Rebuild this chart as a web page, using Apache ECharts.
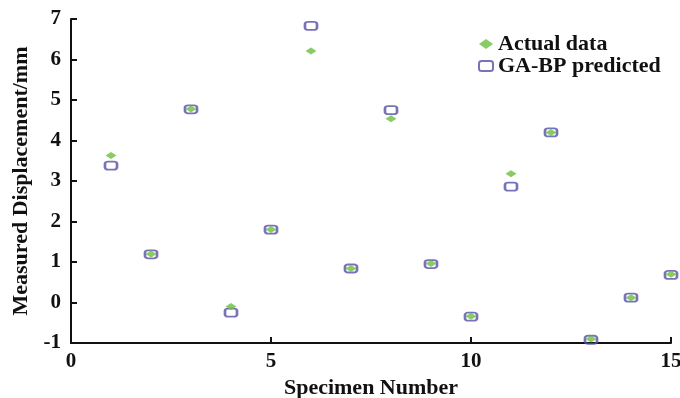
<!DOCTYPE html>
<html>
<head>
<meta charset="utf-8">
<script src="https://cdn.jsdelivr.net/npm/echarts@6/dist/echarts.min.js"></script>
<style>
  html, body { margin: 0; padding: 0; background: #fff; }
  #chart { width: 680px; height: 398px; }
</style>
</head>
<body>
<div id="chart"></div>
<script>
// specimen numbers 1..15
const specimens = [1, 2, 3, 4, 5, 6, 7, 8, 9, 10, 11, 12, 13, 14, 15];
const actualData = [3.63, 1.2, 4.78, -0.1, 1.8, 6.21, 0.84, 4.54, 0.96, -0.34, 3.18, 4.2, -0.9, 0.12, 0.7];
const predictedData = [3.38, 1.19, 4.77, -0.25, 1.8, 6.83, 0.84, 4.75, 0.95, -0.35, 2.86, 4.2, -0.92, 0.12, 0.68];

const font = 'Liberation Serif';
const pairs = (ys) => specimens.map((x, i) => [x, ys[i]]);
const txt = (size) => ({ fontFamily: font, fontWeight: 'bold', fontSize: size, color: '#111' });

const myChart = echarts.init(document.getElementById('chart'));
myChart.setOption({
  animation: false,
  backgroundColor: '#fff',
  grid: { left: 71, right: 9, top: 19, bottom: 55, outerBoundsMode: 'none', containLabel: false },
  legend: {
    orient: 'vertical',
    left: 473,
    top: 28,
    itemGap: 0,
    itemWidth: 14,
    itemHeight: 10,
    data: ['Actual data', 'GA-BP predicted'],
    textStyle: txt(22),
  },
  xAxis: {
    type: 'value',
    min: 0,
    max: 15,
    interval: 5,
    name: 'Specimen Number',
    nameLocation: 'middle',
    nameGap: 25,
    nameTextStyle: txt(22),
    axisLine: { onZero: false, lineStyle: { color: '#111', width: 2 } },
    axisTick: { inside: true, length: 6, lineStyle: { color: '#111', width: 2 } },
    axisLabel: Object.assign(txt(21), { margin: 8 }),
    splitLine: { show: false },
  },
  yAxis: {
    type: 'value',
    min: -1,
    max: 7,
    interval: 1,
    name: 'Measured Displacement/mm',
    nameLocation: 'middle',
    nameGap: 37,
    nameTextStyle: txt(22),
    axisLine: { show: true, lineStyle: { color: '#111', width: 2 } },
    axisTick: { show: true, inside: true, length: 6, lineStyle: { color: '#111', width: 2 } },
    axisLabel: Object.assign(txt(21), { margin: 10 }),
    splitLine: { show: false },
  },
  series: [
    {
      name: 'GA-BP predicted',
      type: 'scatter',
      symbol: 'roundRect',
      symbolSize: [12, 8],
      itemStyle: { color: 'rgba(255,255,255,0)', borderColor: '#5650a6', borderWidth: 2.2 },
      data: pairs(predictedData),
      z: 2,
    },
    {
      name: 'Actual data',
      type: 'scatter',
      symbol: 'diamond',
      symbolSize: [11, 7],
      itemStyle: { color: '#6cbf3e' },
      data: pairs(actualData),
      z: 3,
    },
  ],
});
</script>
</body>
</html>
